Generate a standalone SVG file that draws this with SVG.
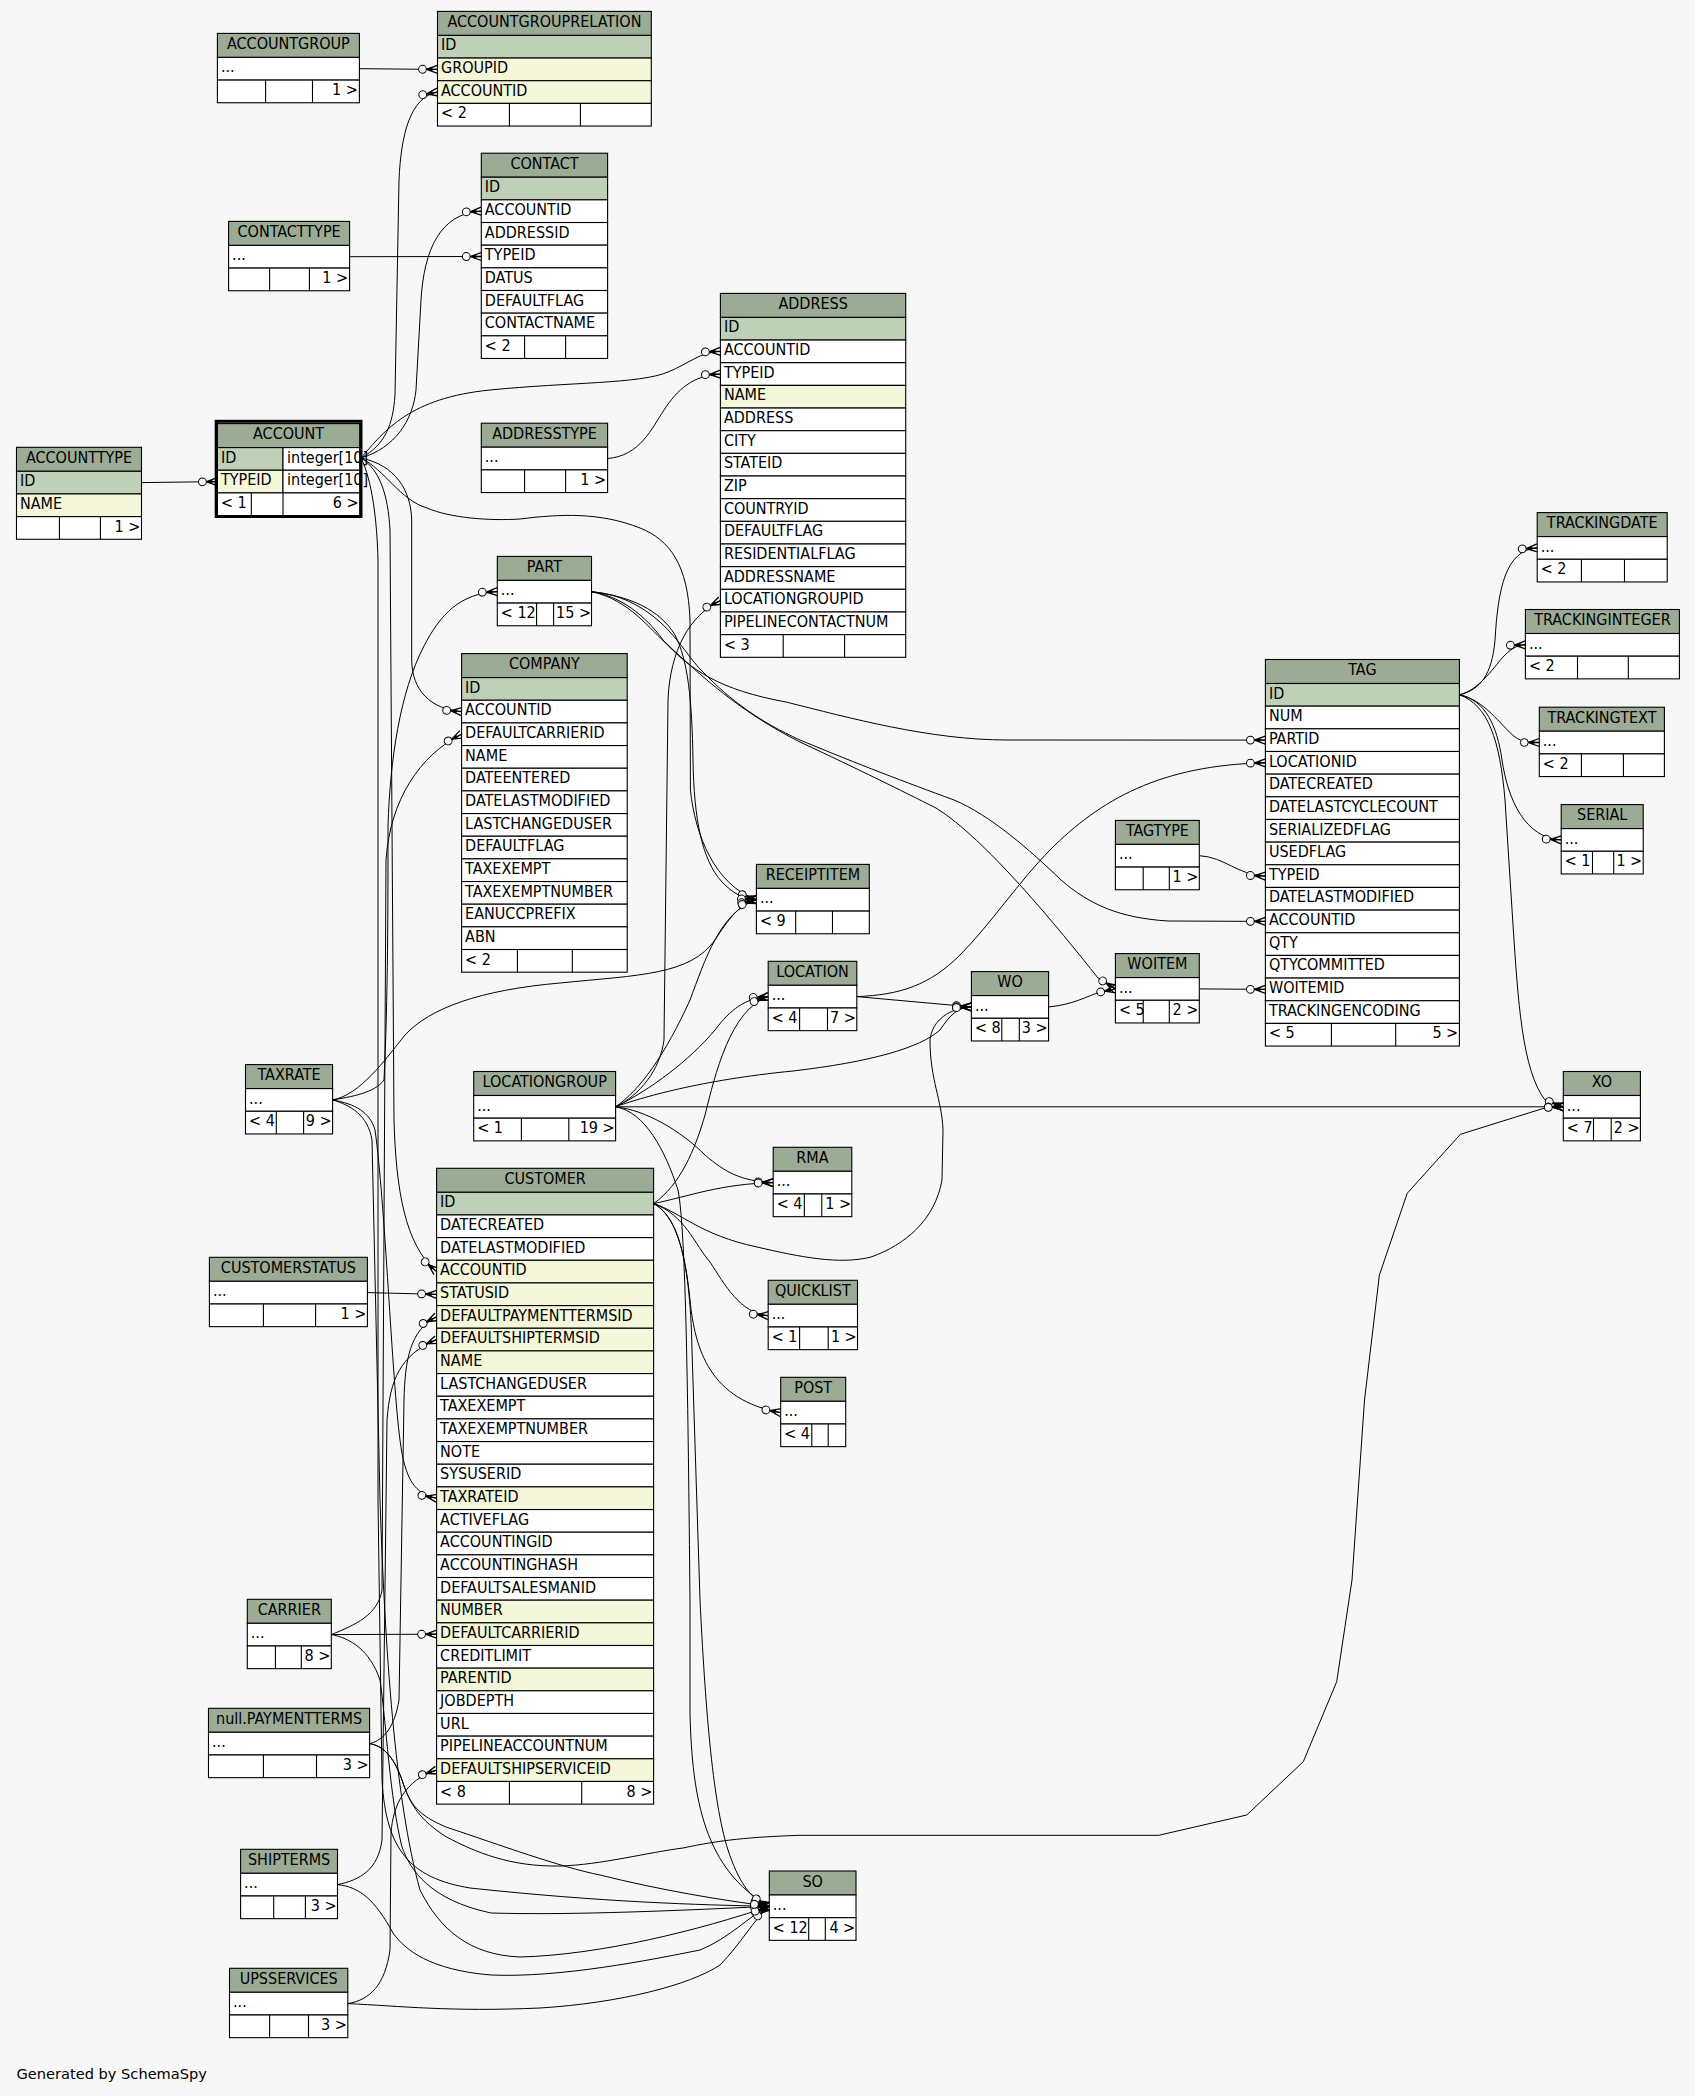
<svg xmlns="http://www.w3.org/2000/svg" width="1695" height="2096" viewBox="0 0 1695 2096">
<style>
.hd{fill:#9bab96;stroke:#000;stroke-width:1.1}
.pk{fill:#bed1b8;stroke:#000;stroke-width:1.1}
.ix{fill:#f4f7da;stroke:#000;stroke-width:1.1}
.w{fill:#fff;stroke:#000;stroke-width:1.1}
.n{fill:none;stroke:#000;stroke-width:1.1}
.e{fill:none;stroke:#000;stroke-width:1;marker-end:url(#cf)}
text{font-family:"DejaVu Sans Condensed","DejaVu Sans",sans-serif;font-stretch:condensed;font-size:16px;fill:#000}
.c{text-anchor:middle}
.r{text-anchor:end}
.foot{font-family:"DejaVu Sans",sans-serif;font-stretch:normal;font-size:14.6px}
</style>
<defs>
<marker id="cf" markerUnits="userSpaceOnUse" viewBox="-22 -7 24 14" refX="0" refY="0" markerWidth="24" markerHeight="14" orient="auto" overflow="visible">
<path d="M0,-4 L-11,0 L0,4 M-11,0 L0,0" fill="none" stroke="#000" stroke-width="1.3"/>
<path d="M-11,0 L-5,-2.2 L-5,2.2 Z" fill="#000"/>
<circle cx="-15" cy="0" r="3.9" fill="#f7f7f7" stroke="#000" stroke-width="1"/>
</marker>
</defs>
<rect x="0" y="0" width="1695" height="2096" fill="#f7f7f7"/>

<g id="connectors">
<path class="e" d="M359.4,68.7 L437.5,69.4"/>
<path class="e" d="M361,458 C385,445 393,425 395,395 L399,180 C401,135 410,97 437.5,92.05"/>
<path class="e" d="M361,458 C395,448 413,420 416,390 L421,300 C424,250 440,213 481.3,211.2"/>
<path class="e" d="M349.6,256.7 L481.3,256.5"/>
<path class="e" d="M361,458 C385,430 410,398 490,390 C570,382 640,384 668,372 C690,363 700,352 720.4,351.4"/>
<path class="e" d="M607.6,458.5 C640,456 652,428 664,410 C677,390 693,375 720.4,374.05"/>
<path class="e" d="M141.5,482.6 L217.4,481.6"/>
<path class="e" d="M361,458 C395,465 411,490 411.7,520 L411.7,660 C412,690 430,709 461.6,711.6"/>
<path class="e" d="M361,458 C385,470 400,500 427,508 C450,518 490,521 520,519 C560,514 600,512 640,528 C670,540 688,565 690,620 L690.4,790 C695,835 715,885 756.4,899.7"/>
<path class="e" d="M361,458 C380,470 388,495 390,530 L394,1120 C396,1190 405,1245 436.6,1271.6"/>
<path class="e" d="M361,458 C372,480 377,520 378,560 L378,1500 L382,1780 C386,1850 410,1878 470,1888 C600,1902 700,1905 769.3,1906.3"/>
<path class="e" d="M591.5,591.7 C620,596 645,615 663,640 C690,670 720,690 786,702 C850,718 930,740 1007,740 L1265.4,740.1"/>
<path class="e" d="M591.5,591.7 C630,600 650,630 668,645 C700,675 740,712 800,742 C860,770 900,790 936,808 C985,838 1060,930 1098,978 L1115.4,988.9"/>
<path class="e" d="M591.5,591.7 C620,594 642,606 660,622 C680,640 690,660 704,673 C730,700 760,722 800,740 C860,765 905,782 954,800 C990,815 1030,850 1061,880 C1090,905 1120,918 1168,921 L1265.4,921.4"/>
<path class="e" d="M591.5,591.7 C630,596 660,610 675,635 C688,660 692,700 693,760 C694,820 702,860 722,882 C733,893 742,899 756.4,899.7"/>
<path class="e" d="M856.8,996.6 C900,995 930,985 960,955 C990,925 1020,880 1050,850 C1100,800 1160,765 1265.4,762.8"/>
<path class="e" d="M856.8,996.6 L971.4,1006.9"/>
<path class="e" d="M1199.3,855.7 C1225,857 1237,875 1265.4,876.1"/>
<path class="e" d="M1199.3,988.9 L1265.4,989.4"/>
<path class="e" d="M1048.6,1006.9 C1072,1005 1088,996 1100,992 L1115.4,988.9"/>
<path class="e" d="M1459.4,694.8 C1480,690 1492,675 1495,640 C1498,590 1505,550 1537.2,547.9"/>
<path class="e" d="M1459.4,694.8 C1480,690 1495,665 1505,655 C1512,648 1518,645 1525.4,644.8"/>
<path class="e" d="M1459.4,694.8 C1485,700 1500,725 1515,737 C1522,742 1530,742.5 1539.3,742.5"/>
<path class="e" d="M1459.4,694.8 C1485,700 1497,725 1502,760 C1508,800 1525,838 1561.2,839.9"/>
<path class="e" d="M1459.4,694.8 C1488,705 1500,740 1505,800 L1513,925 C1518,1000 1522,1070 1545,1100 L1563.3,1106.8"/>
<path class="e" d="M615.6,1106.8 L1563.3,1106.8"/>
<path class="e" d="M369.6,1743.6 C385,1746 395,1760 402,1780 C410,1805 420,1820 446,1836.7 C475,1852 510,1867 560,1866 C600,1865 650,1852 683,1848 C720,1840 750,1837 800,1835.3 L1158.7,1835.3 L1246.7,1815 L1303.3,1761.7 L1336.7,1681.7 L1352,1580 L1364.5,1400 L1379.4,1275 L1407.2,1193.3 L1460.4,1134.3 L1546.2,1107.5 L1563.3,1106.8"/>
<path class="e" d="M615.6,1106.8 C640,1095 660,1070 664,1040 L668,700 C670,650 690,615 720.4,600.65"/>
<path class="e" d="M615.6,1106.8 C650,1090 690,1060 715,1030 C730,1010 745,998 768.2,996.6"/>
<path class="e" d="M653.6,1203.6 C680,1185 695,1150 705,1115 C715,1075 730,1010 768.2,996.6"/>
<path class="e" d="M332.6,1099.9 C360,1095 385,1060 405,1035 C430,1008 480,990 560,983 C640,975 690,975 715,940 C728,920 740,903 756.4,899.7"/>
<path class="e" d="M615.6,1106.8 C640,1090 665,1055 690,1000 C705,960 720,912 756.4,899.7"/>
<path class="e" d="M615.6,1106.8 C640,1098 700,1080 793,1071 C870,1062 920,1048 940,1030 C950,1015 958,1007 971.4,1006.9"/>
<path class="e" d="M653.6,1203.6 C680,1212 700,1235 757,1247 C800,1257 840,1265 871,1257 C905,1245 935,1220 942,1180 L943,1130 C942,1100 930,1080 930,1040 C932,1020 950,1008 971.4,1006.9"/>
<path class="e" d="M615.6,1106.8 C645,1110 680,1130 705,1155 C725,1172 740,1181 773.2,1182.6"/>
<path class="e" d="M653.6,1203.6 C690,1196 720,1184 773.2,1182.6"/>
<path class="e" d="M653.6,1203.6 C685,1215 695,1245 710,1262 C725,1285 740,1313 768.2,1315.6"/>
<path class="e" d="M653.6,1203.6 C675,1215 685,1250 690,1300 C695,1350 710,1400 780.7,1412.6"/>
<path class="e" d="M653.6,1203.6 C675,1215 690,1250 692,1350 L700,1600 C705,1700 712,1800 728,1850 C738,1880 750,1900 769.3,1906.3"/>
<path class="e" d="M615.6,1106.8 C645,1112 665,1150 678,1190 C686,1230 688,1400 690,1600 L690,1713 C692,1800 705,1870 769.3,1906.3"/>
<path class="e" d="M331.3,1634.6 C350,1638 370,1650 380,1680 C386,1720 390,1800 402,1847 C410,1870 430,1900 491,1913 C560,1915 650,1912 769.3,1906.3"/>
<path class="e" d="M337.5,1884.6 C360,1887 375,1900 393,1933 C405,1950 430,1970 491,1975 C560,1978 650,1960 700,1950 C730,1938 750,1915 769.3,1906.3"/>
<path class="e" d="M347.8,2003.6 C400,2006 450,2012 540,2008 C620,2003 690,1985 720,1965 C740,1945 755,1918 769.3,1906.3"/>
<path class="e" d="M332.6,1099.9 C350,1105 368,1115 372,1140 L380,1500 C385,1650 395,1800 420,1890 C440,1930 470,1955 520,1957 C600,1955 700,1930 769.3,1906.3"/>
<path class="e" d="M369.6,1743.6 C385,1746 395,1760 402,1780 C410,1805 418,1815 446,1827 C500,1845 560,1867 600,1875 C660,1890 720,1900 769.3,1906.3"/>
<path class="e" d="M369.6,1743.6 C385,1740 395,1725 399,1700 L404,1400 C405,1360 410,1330 436.6,1316.9"/>
<path class="e" d="M337.5,1884.6 C360,1880 378,1870 382,1840 L387,1420 C390,1380 400,1355 436.6,1339.6"/>
<path class="e" d="M347.8,2003.6 C370,2000 385,1985 390,1950 L391,1833 C393,1805 405,1780 436.6,1770.2"/>
<path class="e" d="M332.6,1099.9 C355,1104 370,1112 375,1130 C385,1200 392,1380 400,1440 C405,1480 415,1494 436.6,1498.2"/>
<path class="e" d="M332.6,1099.9 C350,1097 375,1093 384,1080 C388,1000 388,900 388,826 C390,760 400,692 424,646 C440,615 460,593 497.3,591.7"/>
<path class="e" d="M331.3,1634.6 C355,1625 378,1615 382,1590 L386,860 C390,800 420,755 461.6,734.25"/>
<path class="e" d="M331.3,1634.6 L436.6,1634.2"/>
<path class="e" d="M367.4,1292.6 L436.6,1294.3"/>
</g>

<g id="ACCOUNTGROUP">
<rect class="hd" x="217.4" y="33.4" width="142" height="24"/><text class="c" x="288.4" y="48.9">ACCOUNTGROUP</text>
<rect class="w" x="217.4" y="57.4" width="142" height="22.66"/><text x="220.9" y="72.4">...</text>
<rect class="w" x="217.4" y="80.1" width="142" height="22.66"/><path class="n" d="M265.6,80.1v22.66M312.5,80.1v22.66"/><text class="r" x="357.9" y="95.1">1 &gt;</text>
</g>

<g id="ACCOUNTGROUPRELATION">
<rect class="hd" x="437.5" y="11.4" width="213.8" height="24"/><text class="c" x="544.4" y="26.9">ACCOUNTGROUPRELATION</text>
<rect class="pk" x="437.5" y="35.4" width="213.8" height="22.66"/><text x="441" y="50.4">ID</text>
<rect class="ix" x="437.5" y="58.06" width="213.8" height="22.66"/><text x="441" y="73.1">GROUPID</text>
<rect class="ix" x="437.5" y="80.72" width="213.8" height="22.66"/><text x="441" y="95.7">ACCOUNTID</text>
<rect class="w" x="437.5" y="103.38" width="213.8" height="22.66"/><path class="n" d="M509.4,103.38v22.66M580.4,103.38v22.66"/><text x="441" y="118.4">&lt; 2</text>
</g>

<g id="CONTACT">
<rect class="hd" x="481.3" y="153.2" width="126.3" height="24"/><text class="c" x="544.5" y="168.7">CONTACT</text>
<rect class="pk" x="481.3" y="177.2" width="126.3" height="22.66"/><text x="484.8" y="192.2">ID</text>
<rect class="w" x="481.3" y="199.86" width="126.3" height="22.66"/><text x="484.8" y="214.9">ACCOUNTID</text>
<rect class="w" x="481.3" y="222.52" width="126.3" height="22.66"/><text x="484.8" y="237.5">ADDRESSID</text>
<rect class="w" x="481.3" y="245.18" width="126.3" height="22.66"/><text x="484.8" y="260.2">TYPEID</text>
<rect class="w" x="481.3" y="267.84" width="126.3" height="22.66"/><text x="484.8" y="282.8">DATUS</text>
<rect class="w" x="481.3" y="290.5" width="126.3" height="22.66"/><text x="484.8" y="305.5">DEFAULTFLAG</text>
<rect class="w" x="481.3" y="313.16" width="126.3" height="22.66"/><text x="484.8" y="328.2">CONTACTNAME</text>
<rect class="w" x="481.3" y="335.82" width="126.3" height="22.66"/><path class="n" d="M524.6,335.82v22.66M565.6,335.82v22.66"/><text x="484.8" y="350.8">&lt; 2</text>
</g>

<g id="CONTACTTYPE">
<rect class="hd" x="228.6" y="221.4" width="121" height="24"/><text class="c" x="289.1" y="236.9">CONTACTTYPE</text>
<rect class="w" x="228.6" y="245.4" width="121" height="22.66"/><text x="232.1" y="260.4">...</text>
<rect class="w" x="228.6" y="268.1" width="121" height="22.66"/><path class="n" d="M269.6,268.1v22.66M309.4,268.1v22.66"/><text class="r" x="348.1" y="283.1">1 &gt;</text>
</g>

<g id="ACCOUNT">
<rect class="hd" x="217.4" y="423.6" width="142.4" height="24"/><text class="c" x="288.6" y="439.1">ACCOUNT</text>
<rect class="pk" x="217.4" y="447.6" width="65.6" height="22.66"/><rect class="w" x="283" y="447.6" width="76.8" height="22.66"/>
<text x="220.9" y="462.6">ID</text><text x="287" y="462.6">integer[10]</text>
<rect class="ix" x="217.4" y="470.26" width="65.6" height="22.66"/><rect class="w" x="283" y="470.26" width="76.8" height="22.66"/>
<text x="220.9" y="485.3">TYPEID</text><text x="287" y="485.3">integer[10]</text>
<rect class="w" x="217.4" y="492.92" width="142.4" height="22.66"/><path class="n" d="M251.3,492.92v22.66M283,492.92v22.66"/>
<text x="220.9" y="507.9">&lt; 1</text><text class="r" x="358.6" y="507.9">6 &gt;</text>
<rect x="216.2" y="421.3" width="144.8" height="95.2" fill="none" stroke="#000" stroke-width="3"/>
</g>

<g id="ACCOUNTTYPE">
<rect class="hd" x="16.5" y="447.3" width="125" height="24"/><text class="c" x="79" y="462.8">ACCOUNTTYPE</text>
<rect class="pk" x="16.5" y="471.3" width="125" height="22.66"/><text x="20" y="486.3">ID</text>
<rect class="ix" x="16.5" y="493.96" width="125" height="22.66"/><text x="20" y="509">NAME</text>
<rect class="w" x="16.5" y="516.62" width="125" height="22.66"/><path class="n" d="M59.4,516.62v22.66M100.4,516.62v22.66"/><text class="r" x="140.3" y="531.6">1 &gt;</text>
</g>

<g id="ADDRESSTYPE">
<rect class="hd" x="481.3" y="423.2" width="126.3" height="24"/><text class="c" x="544.5" y="438.7">ADDRESSTYPE</text>
<rect class="w" x="481.3" y="447.2" width="126.3" height="22.66"/><text x="484.8" y="462.2">...</text>
<rect class="w" x="481.3" y="469.9" width="126.3" height="22.66"/><path class="n" d="M524.6,469.9v22.66M565.6,469.9v22.66"/><text class="r" x="606.1" y="484.9">1 &gt;</text>
</g>

<g id="ADDRESS">
<rect class="hd" x="720.4" y="293.4" width="185.3" height="24"/><text class="c" x="813.1" y="308.9">ADDRESS</text>
<rect class="pk" x="720.4" y="317.4" width="185.3" height="22.66"/><text x="723.9" y="332.4">ID</text>
<rect class="w" x="720.4" y="340.06" width="185.3" height="22.66"/><text x="723.9" y="355.1">ACCOUNTID</text>
<rect class="w" x="720.4" y="362.72" width="185.3" height="22.66"/><text x="723.9" y="377.7">TYPEID</text>
<rect class="ix" x="720.4" y="385.38" width="185.3" height="22.66"/><text x="723.9" y="400.4">NAME</text>
<rect class="w" x="720.4" y="408.04" width="185.3" height="22.66"/><text x="723.9" y="423">ADDRESS</text>
<rect class="w" x="720.4" y="430.7" width="185.3" height="22.66"/><text x="723.9" y="445.7">CITY</text>
<rect class="w" x="720.4" y="453.36" width="185.3" height="22.66"/><text x="723.9" y="468.4">STATEID</text>
<rect class="w" x="720.4" y="476.02" width="185.3" height="22.66"/><text x="723.9" y="491">ZIP</text>
<rect class="w" x="720.4" y="498.68" width="185.3" height="22.66"/><text x="723.9" y="513.7">COUNTRYID</text>
<rect class="w" x="720.4" y="521.34" width="185.3" height="22.66"/><text x="723.9" y="536.3">DEFAULTFLAG</text>
<rect class="w" x="720.4" y="544" width="185.3" height="22.66"/><text x="723.9" y="559">RESIDENTIALFLAG</text>
<rect class="w" x="720.4" y="566.66" width="185.3" height="22.66"/><text x="723.9" y="581.7">ADDRESSNAME</text>
<rect class="w" x="720.4" y="589.32" width="185.3" height="22.66"/><text x="723.9" y="604.3">LOCATIONGROUPID</text>
<rect class="w" x="720.4" y="611.98" width="185.3" height="22.66"/><text x="723.9" y="627">PIPELINECONTACTNUM</text>
<rect class="w" x="720.4" y="634.64" width="185.3" height="22.66"/><path class="n" d="M783.2,634.64v22.66M844.6,634.64v22.66"/><text x="723.9" y="649.6">&lt; 3</text>
</g>

<g id="PART">
<rect class="hd" x="497.3" y="556.4" width="94.2" height="24"/><text class="c" x="544.4" y="571.9">PART</text>
<rect class="w" x="497.3" y="580.4" width="94.2" height="22.66"/><text x="500.8" y="595.4">...</text>
<rect class="w" x="497.3" y="603.1" width="94.2" height="22.66"/><path class="n" d="M536.6,603.1v22.66M553.6,603.1v22.66"/><text x="500.8" y="618.1">&lt; 12</text><text class="r" x="591" y="618.1">15 &gt;</text>
</g>

<g id="COMPANY">
<rect class="hd" x="461.6" y="653.6" width="165.6" height="24"/><text class="c" x="544.4" y="669.1">COMPANY</text>
<rect class="pk" x="461.6" y="677.6" width="165.6" height="22.66"/><text x="465.1" y="692.6">ID</text>
<rect class="w" x="461.6" y="700.26" width="165.6" height="22.66"/><text x="465.1" y="715.3">ACCOUNTID</text>
<rect class="w" x="461.6" y="722.92" width="165.6" height="22.66"/><text x="465.1" y="737.9">DEFAULTCARRIERID</text>
<rect class="w" x="461.6" y="745.58" width="165.6" height="22.66"/><text x="465.1" y="760.6">NAME</text>
<rect class="w" x="461.6" y="768.24" width="165.6" height="22.66"/><text x="465.1" y="783.2">DATEENTERED</text>
<rect class="w" x="461.6" y="790.9" width="165.6" height="22.66"/><text x="465.1" y="805.9">DATELASTMODIFIED</text>
<rect class="w" x="461.6" y="813.56" width="165.6" height="22.66"/><text x="465.1" y="828.6">LASTCHANGEDUSER</text>
<rect class="w" x="461.6" y="836.22" width="165.6" height="22.66"/><text x="465.1" y="851.2">DEFAULTFLAG</text>
<rect class="w" x="461.6" y="858.88" width="165.6" height="22.66"/><text x="465.1" y="873.9">TAXEXEMPT</text>
<rect class="w" x="461.6" y="881.54" width="165.6" height="22.66"/><text x="465.1" y="896.5">TAXEXEMPTNUMBER</text>
<rect class="w" x="461.6" y="904.2" width="165.6" height="22.66"/><text x="465.1" y="919.2">EANUCCPREFIX</text>
<rect class="w" x="461.6" y="926.86" width="165.6" height="22.66"/><text x="465.1" y="941.9">ABN</text>
<rect class="w" x="461.6" y="949.52" width="165.6" height="22.66"/><path class="n" d="M517.4,949.52v22.66M572.3,949.52v22.66"/><text x="465.1" y="964.5">&lt; 2</text>
</g>

<g id="TAXRATE">
<rect class="hd" x="245.5" y="1064.6" width="87.1" height="24"/><text class="c" x="289.1" y="1080.1">TAXRATE</text>
<rect class="w" x="245.5" y="1088.6" width="87.1" height="22.66"/><text x="249" y="1103.6">...</text>
<rect class="w" x="245.5" y="1111.3" width="87.1" height="22.66"/><path class="n" d="M276.3,1111.3v22.66M303.6,1111.3v22.66"/><text x="249" y="1126.3">&lt; 4</text><text class="r" x="331.6" y="1126.3">9 &gt;</text>
</g>

<g id="LOCATIONGROUP">
<rect class="hd" x="473.7" y="1071.5" width="141.9" height="24"/><text class="c" x="544.7" y="1087">LOCATIONGROUP</text>
<rect class="w" x="473.7" y="1095.5" width="141.9" height="22.66"/><text x="477.2" y="1110.5">...</text>
<rect class="w" x="473.7" y="1118.2" width="141.9" height="22.66"/><path class="n" d="M521.4,1118.2v22.66M568.8,1118.2v22.66"/><text x="477.2" y="1133.2">&lt; 1</text><text class="r" x="614.6" y="1133.2">19 &gt;</text>
</g>

<g id="CUSTOMER">
<rect class="hd" x="436.6" y="1168.3" width="217" height="24"/><text class="c" x="545.1" y="1183.8">CUSTOMER</text>
<rect class="pk" x="436.6" y="1192.3" width="217" height="22.66"/><text x="440.1" y="1207.3">ID</text>
<rect class="w" x="436.6" y="1214.96" width="217" height="22.66"/><text x="440.1" y="1230">DATECREATED</text>
<rect class="w" x="436.6" y="1237.62" width="217" height="22.66"/><text x="440.1" y="1252.6">DATELASTMODIFIED</text>
<rect class="ix" x="436.6" y="1260.28" width="217" height="22.66"/><text x="440.1" y="1275.3">ACCOUNTID</text>
<rect class="ix" x="436.6" y="1282.94" width="217" height="22.66"/><text x="440.1" y="1297.9">STATUSID</text>
<rect class="ix" x="436.6" y="1305.6" width="217" height="22.66"/><text x="440.1" y="1320.6">DEFAULTPAYMENTTERMSID</text>
<rect class="ix" x="436.6" y="1328.26" width="217" height="22.66"/><text x="440.1" y="1343.3">DEFAULTSHIPTERMSID</text>
<rect class="ix" x="436.6" y="1350.92" width="217" height="22.66"/><text x="440.1" y="1365.9">NAME</text>
<rect class="w" x="436.6" y="1373.58" width="217" height="22.66"/><text x="440.1" y="1388.6">LASTCHANGEDUSER</text>
<rect class="w" x="436.6" y="1396.24" width="217" height="22.66"/><text x="440.1" y="1411.2">TAXEXEMPT</text>
<rect class="w" x="436.6" y="1418.9" width="217" height="22.66"/><text x="440.1" y="1433.9">TAXEXEMPTNUMBER</text>
<rect class="w" x="436.6" y="1441.56" width="217" height="22.66"/><text x="440.1" y="1456.6">NOTE</text>
<rect class="w" x="436.6" y="1464.22" width="217" height="22.66"/><text x="440.1" y="1479.2">SYSUSERID</text>
<rect class="ix" x="436.6" y="1486.88" width="217" height="22.66"/><text x="440.1" y="1501.9">TAXRATEID</text>
<rect class="w" x="436.6" y="1509.54" width="217" height="22.66"/><text x="440.1" y="1524.5">ACTIVEFLAG</text>
<rect class="w" x="436.6" y="1532.2" width="217" height="22.66"/><text x="440.1" y="1547.2">ACCOUNTINGID</text>
<rect class="w" x="436.6" y="1554.86" width="217" height="22.66"/><text x="440.1" y="1569.9">ACCOUNTINGHASH</text>
<rect class="w" x="436.6" y="1577.52" width="217" height="22.66"/><text x="440.1" y="1592.5">DEFAULTSALESMANID</text>
<rect class="ix" x="436.6" y="1600.18" width="217" height="22.66"/><text x="440.1" y="1615.2">NUMBER</text>
<rect class="ix" x="436.6" y="1622.84" width="217" height="22.66"/><text x="440.1" y="1637.8">DEFAULTCARRIERID</text>
<rect class="w" x="436.6" y="1645.5" width="217" height="22.66"/><text x="440.1" y="1660.5">CREDITLIMIT</text>
<rect class="ix" x="436.6" y="1668.16" width="217" height="22.66"/><text x="440.1" y="1683.2">PARENTID</text>
<rect class="w" x="436.6" y="1690.82" width="217" height="22.66"/><text x="440.1" y="1705.8">JOBDEPTH</text>
<rect class="w" x="436.6" y="1713.48" width="217" height="22.66"/><text x="440.1" y="1728.5">URL</text>
<rect class="w" x="436.6" y="1736.14" width="217" height="22.66"/><text x="440.1" y="1751.1">PIPELINEACCOUNTNUM</text>
<rect class="ix" x="436.6" y="1758.8" width="217" height="22.66"/><text x="440.1" y="1773.8">DEFAULTSHIPSERVICEID</text>
<rect class="w" x="436.6" y="1781.46" width="217" height="22.66"/><path class="n" d="M509.4,1781.46v22.66M581.7,1781.46v22.66"/><text x="440.1" y="1796.5">&lt; 8</text><text class="r" x="652.4" y="1796.5">8 &gt;</text>
</g>

<g id="CUSTOMERSTATUS">
<rect class="hd" x="209.4" y="1257.3" width="158" height="24"/><text class="c" x="288.4" y="1272.8">CUSTOMERSTATUS</text>
<rect class="w" x="209.4" y="1281.3" width="158" height="22.66"/><text x="212.9" y="1296.3">...</text>
<rect class="w" x="209.4" y="1304" width="158" height="22.66"/><path class="n" d="M263.4,1304v22.66M315.6,1304v22.66"/><text class="r" x="366.4" y="1319">1 &gt;</text>
</g>

<g id="CARRIER">
<rect class="hd" x="247.3" y="1599.3" width="84" height="24"/><text class="c" x="289.3" y="1614.8">CARRIER</text>
<rect class="w" x="247.3" y="1623.3" width="84" height="22.66"/><text x="250.8" y="1638.3">...</text>
<rect class="w" x="247.3" y="1646" width="84" height="22.66"/><path class="n" d="M275.4,1646v22.66M301.3,1646v22.66"/><text class="r" x="330.3" y="1661">8 &gt;</text>
</g>

<g id="null.PAYMENTTERMS">
<rect class="hd" x="208.5" y="1708.3" width="161.1" height="24"/><text class="c" x="289.1" y="1723.8">null.PAYMENTTERMS</text>
<rect class="w" x="208.5" y="1732.3" width="161.1" height="22.66"/><text x="212" y="1747.3">...</text>
<rect class="w" x="208.5" y="1755" width="161.1" height="22.66"/><path class="n" d="M263.4,1755v22.66M316.5,1755v22.66"/><text class="r" x="368.6" y="1770">3 &gt;</text>
</g>

<g id="SHIPTERMS">
<rect class="hd" x="240.6" y="1849.3" width="96.9" height="24"/><text class="c" x="289.1" y="1864.8">SHIPTERMS</text>
<rect class="w" x="240.6" y="1873.3" width="96.9" height="22.66"/><text x="244.1" y="1888.3">...</text>
<rect class="w" x="240.6" y="1896" width="96.9" height="22.66"/><path class="n" d="M273.7,1896v22.66M305.4,1896v22.66"/><text class="r" x="336.5" y="1911">3 &gt;</text>
</g>

<g id="UPSSERVICES">
<rect class="hd" x="229.5" y="1968.3" width="118.3" height="24"/><text class="c" x="288.7" y="1983.8">UPSSERVICES</text>
<rect class="w" x="229.5" y="1992.3" width="118.3" height="22.66"/><text x="233" y="2007.3">...</text>
<rect class="w" x="229.5" y="2015" width="118.3" height="22.66"/><path class="n" d="M269.6,2015v22.66M308.5,2015v22.66"/><text class="r" x="346.8" y="2030">3 &gt;</text>
</g>

<g id="RECEIPTITEM">
<rect class="hd" x="756.4" y="864.4" width="112.9" height="24"/><text class="c" x="812.9" y="879.9">RECEIPTITEM</text>
<rect class="w" x="756.4" y="888.4" width="112.9" height="22.66"/><text x="759.9" y="903.4">...</text>
<rect class="w" x="756.4" y="911.1" width="112.9" height="22.66"/><path class="n" d="M795.7,911.1v22.66M832.5,911.1v22.66"/><text x="759.9" y="926.1">&lt; 9</text>
</g>

<g id="LOCATION">
<rect class="hd" x="768.2" y="961.3" width="88.6" height="24"/><text class="c" x="812.5" y="976.8">LOCATION</text>
<rect class="w" x="768.2" y="985.3" width="88.6" height="22.66"/><text x="771.7" y="1000.3">...</text>
<rect class="w" x="768.2" y="1008" width="88.6" height="22.66"/><path class="n" d="M799.6,1008v22.66M827.5,1008v22.66"/><text x="771.7" y="1023">&lt; 4</text><text class="r" x="855.8" y="1023">7 &gt;</text>
</g>

<g id="WO">
<rect class="hd" x="971.4" y="971.6" width="77.2" height="24"/><text class="c" x="1010" y="987.1">WO</text>
<rect class="w" x="971.4" y="995.6" width="77.2" height="22.66"/><text x="974.9" y="1010.6">...</text>
<rect class="w" x="971.4" y="1018.3" width="77.2" height="22.66"/><path class="n" d="M1001.8,1018.3v22.66M1019.3,1018.3v22.66"/><text x="974.9" y="1033.3">&lt; 8</text><text class="r" x="1047.6" y="1033.3">3 &gt;</text>
</g>

<g id="WOITEM">
<rect class="hd" x="1115.4" y="953.6" width="83.9" height="24"/><text class="c" x="1157.4" y="969.1">WOITEM</text>
<rect class="w" x="1115.4" y="977.6" width="83.9" height="22.66"/><text x="1118.9" y="992.6">...</text>
<rect class="w" x="1115.4" y="1000.3" width="83.9" height="22.66"/><path class="n" d="M1143.2,1000.3v22.66M1169.3,1000.3v22.66"/><text x="1118.9" y="1015.3">&lt; 5</text><text class="r" x="1198.3" y="1015.3">2 &gt;</text>
</g>

<g id="TAGTYPE">
<rect class="hd" x="1115.4" y="820.4" width="83.9" height="24"/><text class="c" x="1157.4" y="835.9">TAGTYPE</text>
<rect class="w" x="1115.4" y="844.4" width="83.9" height="22.66"/><text x="1118.9" y="859.4">...</text>
<rect class="w" x="1115.4" y="867.1" width="83.9" height="22.66"/><path class="n" d="M1143.2,867.1v22.66M1169.3,867.1v22.66"/><text class="r" x="1198.3" y="882.1">1 &gt;</text>
</g>

<g id="TAG">
<rect class="hd" x="1265.4" y="659.5" width="194" height="24"/><text class="c" x="1362.4" y="675">TAG</text>
<rect class="pk" x="1265.4" y="683.5" width="194" height="22.66"/><text x="1268.9" y="698.5">ID</text>
<rect class="w" x="1265.4" y="706.16" width="194" height="22.66"/><text x="1268.9" y="721.2">NUM</text>
<rect class="w" x="1265.4" y="728.82" width="194" height="22.66"/><text x="1268.9" y="743.8">PARTID</text>
<rect class="w" x="1265.4" y="751.48" width="194" height="22.66"/><text x="1268.9" y="766.5">LOCATIONID</text>
<rect class="w" x="1265.4" y="774.14" width="194" height="22.66"/><text x="1268.9" y="789.1">DATECREATED</text>
<rect class="w" x="1265.4" y="796.8" width="194" height="22.66"/><text x="1268.9" y="811.8">DATELASTCYCLECOUNT</text>
<rect class="w" x="1265.4" y="819.46" width="194" height="22.66"/><text x="1268.9" y="834.5">SERIALIZEDFLAG</text>
<rect class="w" x="1265.4" y="842.12" width="194" height="22.66"/><text x="1268.9" y="857.1">USEDFLAG</text>
<rect class="w" x="1265.4" y="864.78" width="194" height="22.66"/><text x="1268.9" y="879.8">TYPEID</text>
<rect class="w" x="1265.4" y="887.44" width="194" height="22.66"/><text x="1268.9" y="902.4">DATELASTMODIFIED</text>
<rect class="w" x="1265.4" y="910.1" width="194" height="22.66"/><text x="1268.9" y="925.1">ACCOUNTID</text>
<rect class="w" x="1265.4" y="932.76" width="194" height="22.66"/><text x="1268.9" y="947.8">QTY</text>
<rect class="w" x="1265.4" y="955.42" width="194" height="22.66"/><text x="1268.9" y="970.4">QTYCOMMITTED</text>
<rect class="w" x="1265.4" y="978.08" width="194" height="22.66"/><text x="1268.9" y="993.1">WOITEMID</text>
<rect class="w" x="1265.4" y="1000.74" width="194" height="22.66"/><text x="1268.9" y="1015.7">TRACKINGENCODING</text>
<rect class="w" x="1265.4" y="1023.4" width="194" height="22.66"/><path class="n" d="M1331.4,1023.4v22.66M1395.7,1023.4v22.66"/><text x="1268.9" y="1038.4">&lt; 5</text><text class="r" x="1458.2" y="1038.4">5 &gt;</text>
</g>

<g id="TRACKINGDATE">
<rect class="hd" x="1537.2" y="512.6" width="130" height="24"/><text class="c" x="1602.2" y="528.1">TRACKINGDATE</text>
<rect class="w" x="1537.2" y="536.6" width="130" height="22.66"/><text x="1540.7" y="551.6">...</text>
<rect class="w" x="1537.2" y="559.3" width="130" height="22.66"/><path class="n" d="M1581.4,559.3v22.66M1624.5,559.3v22.66"/><text x="1540.7" y="574.3">&lt; 2</text>
</g>

<g id="TRACKINGINTEGER">
<rect class="hd" x="1525.4" y="609.5" width="154" height="24"/><text class="c" x="1602.4" y="625">TRACKINGINTEGER</text>
<rect class="w" x="1525.4" y="633.5" width="154" height="22.66"/><text x="1528.9" y="648.5">...</text>
<rect class="w" x="1525.4" y="656.2" width="154" height="22.66"/><path class="n" d="M1577.5,656.2v22.66M1628.3,656.2v22.66"/><text x="1528.9" y="671.2">&lt; 2</text>
</g>

<g id="TRACKINGTEXT">
<rect class="hd" x="1539.3" y="707.2" width="125.1" height="24"/><text class="c" x="1601.9" y="722.7">TRACKINGTEXT</text>
<rect class="w" x="1539.3" y="731.2" width="125.1" height="22.66"/><text x="1542.8" y="746.2">...</text>
<rect class="w" x="1539.3" y="753.9" width="125.1" height="22.66"/><path class="n" d="M1581.4,753.9v22.66M1623.4,753.9v22.66"/><text x="1542.8" y="768.9">&lt; 2</text>
</g>

<g id="SERIAL">
<rect class="hd" x="1561.2" y="804.6" width="82" height="24"/><text class="c" x="1602.2" y="820.1">SERIAL</text>
<rect class="w" x="1561.2" y="828.6" width="82" height="22.66"/><text x="1564.7" y="843.6">...</text>
<rect class="w" x="1561.2" y="851.3" width="82" height="22.66"/><path class="n" d="M1592.5,851.3v22.66M1613.7,851.3v22.66"/><text x="1564.7" y="866.3">&lt; 1</text><text class="r" x="1642.2" y="866.3">1 &gt;</text>
</g>

<g id="XO">
<rect class="hd" x="1563.3" y="1071.5" width="77.1" height="24"/><text class="c" x="1601.9" y="1087">XO</text>
<rect class="w" x="1563.3" y="1095.5" width="77.1" height="22.66"/><text x="1566.8" y="1110.5">...</text>
<rect class="w" x="1563.3" y="1118.2" width="77.1" height="22.66"/><path class="n" d="M1593.5,1118.2v22.66M1611.2,1118.2v22.66"/><text x="1566.8" y="1133.2">&lt; 7</text><text class="r" x="1639.6" y="1133.2">2 &gt;</text>
</g>

<g id="RMA">
<rect class="hd" x="773.2" y="1147.3" width="78.6" height="24"/><text class="c" x="812.5" y="1162.8">RMA</text>
<rect class="w" x="773.2" y="1171.3" width="78.6" height="22.66"/><text x="776.7" y="1186.3">...</text>
<rect class="w" x="773.2" y="1194" width="78.6" height="22.66"/><path class="n" d="M804.3,1194v22.66M821.8,1194v22.66"/><text x="776.7" y="1209">&lt; 4</text><text class="r" x="851" y="1209">1 &gt;</text>
</g>

<g id="QUICKLIST">
<rect class="hd" x="768.2" y="1280.3" width="89.3" height="24"/><text class="c" x="812.9" y="1295.8">QUICKLIST</text>
<rect class="w" x="768.2" y="1304.3" width="89.3" height="22.66"/><text x="771.7" y="1319.3">...</text>
<rect class="w" x="768.2" y="1327" width="89.3" height="22.66"/><path class="n" d="M799.6,1327v22.66M828.2,1327v22.66"/><text x="771.7" y="1342">&lt; 1</text><text class="r" x="856.7" y="1342">1 &gt;</text>
</g>

<g id="POST">
<rect class="hd" x="780.7" y="1377.3" width="65" height="24"/><text class="c" x="813.2" y="1392.8">POST</text>
<rect class="w" x="780.7" y="1401.3" width="65" height="22.66"/><text x="784.2" y="1416.3">...</text>
<rect class="w" x="780.7" y="1424" width="65" height="22.66"/><path class="n" d="M811.8,1424v22.66M828.2,1424v22.66"/><text x="784.2" y="1439">&lt; 4</text>
</g>

<g id="SO">
<rect class="hd" x="769.3" y="1871" width="86.7" height="24"/><text class="c" x="812.7" y="1886.5">SO</text>
<rect class="w" x="769.3" y="1895" width="86.7" height="22.66"/><text x="772.8" y="1910">...</text>
<rect class="w" x="769.3" y="1917.7" width="86.7" height="22.66"/><path class="n" d="M808.7,1917.7v22.66M825.3,1917.7v22.66"/><text x="772.8" y="1932.7">&lt; 12</text><text class="r" x="855.2" y="1932.7">4 &gt;</text>
</g>

<text class="foot" x="16.5" y="2079">Generated by SchemaSpy</text>
</svg>
